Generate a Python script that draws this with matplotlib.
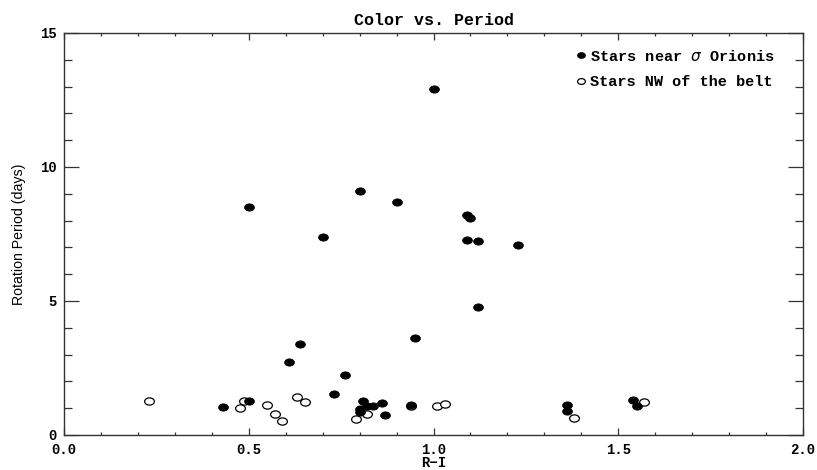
import matplotlib
matplotlib.use("Agg")
import matplotlib.pyplot as plt
from matplotlib.markers import MarkerStyle
from matplotlib.transforms import Affine2D
from matplotlib.ticker import MultipleLocator, FixedLocator

# stars near sigma Orionis (filled)
near_ri = [1.00, 0.50, 0.80, 0.90, 0.70, 1.09, 1.10, 1.09, 1.12, 1.23,
           1.12, 0.95, 0.64, 0.61, 0.76, 0.73, 0.50, 0.81, 0.80, 0.80,
           0.82, 0.835, 0.86, 0.87, 0.94, 0.43, 1.36, 1.36, 1.54, 1.55]
near_period = [12.9, 8.5, 9.1, 8.7, 7.4, 8.2, 8.1, 7.28, 7.23, 7.1,
               4.78, 3.62, 3.38, 2.71, 2.25, 1.54, 1.27, 1.27, 0.97, 0.86,
               1.08, 1.10, 1.21, 0.73, 1.12, 1.06, 1.11, 0.90, 1.29, 1.08]

# stars NW of the belt (open)
nw_ri = [0.23, 0.488, 0.477, 0.55, 0.57, 0.59, 0.631, 0.651, 0.791, 0.82,
         0.94, 1.01, 1.031, 1.38, 1.57]
nw_period = [1.26, 1.28, 1.02, 1.13, 0.80, 0.52, 1.41, 1.24, 0.58, 0.80,
             1.07, 1.07, 1.14, 0.63, 1.23]

x_ticks = [0.0, 0.5, 1.0, 1.5, 2.0]
x_ticklabels = ["0.0", "0.5", "1.0", "1.5", "2.0"]
y_ticks = [0, 5, 10, 15]

mono = {"family": "Liberation Mono", "weight": "bold"}

fig = plt.figure(figsize=(8.17, 4.70), dpi=100)
ax = fig.add_axes([64 / 817, 35 / 470, 739 / 817, 402 / 470])

oval = MarkerStyle("o", transform=Affine2D().scale(1.35, 1.0))

ax.plot(nw_ri, nw_period, linestyle="none", marker=oval, markersize=5.2,
        markerfacecolor="white", markeredgecolor="black", markeredgewidth=0.9,
        label="Stars NW of the belt", zorder=3)
ax.plot(near_ri, near_period, linestyle="none", marker=oval, markersize=5.2,
        markerfacecolor="black", markeredgecolor="black", markeredgewidth=0.6,
        label=r"Stars near $\sigma$ Orionis", zorder=4)

ax.set_xlim(0, 2.0)
ax.set_ylim(0, 15)

ax.xaxis.set_major_locator(FixedLocator(x_ticks))
ax.set_xticklabels(x_ticklabels)
ax.xaxis.set_minor_locator(MultipleLocator(0.1))
ax.yaxis.set_major_locator(FixedLocator(y_ticks))
ax.yaxis.set_minor_locator(MultipleLocator(1))

ax.tick_params(axis="x", which="major", direction="in", length=5, width=0.9,
               top=True, bottom=True, pad=6)
ax.tick_params(axis="x", which="minor", direction="in", length=2.5, width=0.9,
               top=True, bottom=True)
ax.tick_params(axis="y", which="major", direction="in", length=10.8, width=0.9,
               left=True, right=True, pad=5)
ax.tick_params(axis="y", which="minor", direction="in", length=5.5, width=0.9,
               left=True, right=True)
ax.tick_params(colors="#333333", which="both")
for lab in ax.get_xticklabels() + ax.get_yticklabels():
    lab.set_fontfamily("Liberation Mono")
    lab.set_fontweight("bold")
    lab.set_fontsize(10)
    lab.set_color("black")

for sp in ax.spines.values():
    sp.set_linewidth(1.0)
    sp.set_color("#333333")

ax.set_title("Color vs. Period", fontsize=12, pad=6, **mono)
ax.set_xlabel("R\u2212I", fontsize=10, labelpad=-1, **mono)
ax.set_ylabel("Rotation Period (days)", fontsize=10.2, family="Liberation Sans",
              labelpad=10)

handles, labels = ax.get_legend_handles_labels()
leg = ax.legend(handles[::-1], labels[::-1], loc="upper left",
                bbox_to_anchor=(0.675, 0.995), frameon=False,
                prop={"family": "Liberation Mono", "weight": "bold", "size": 11},
                handlelength=0.6, handletextpad=0.3, labelspacing=0.75,
                markerscale=0.8)

fig.savefig("out.png", dpi=100)
